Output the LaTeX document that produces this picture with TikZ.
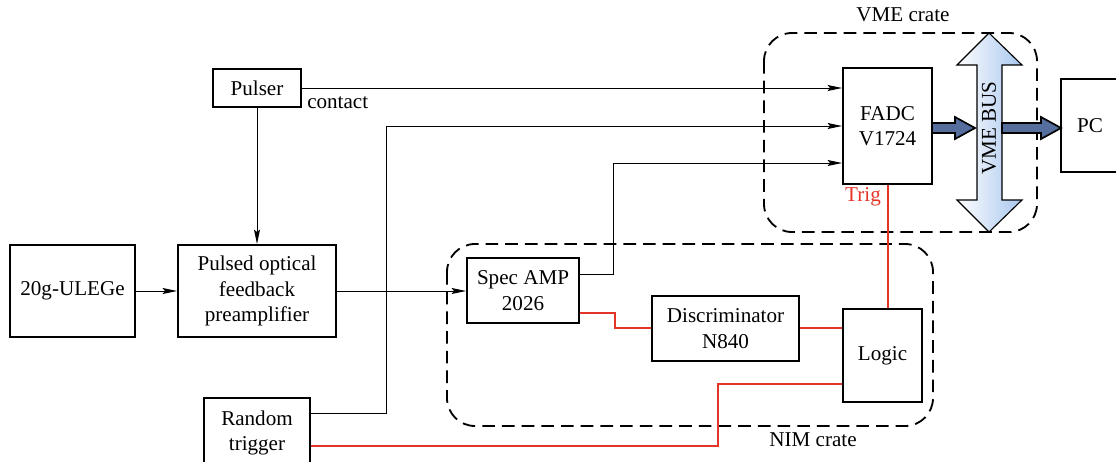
\documentclass[tikz,border=0pt]{standalone}
\usepackage{fontspec}
\setmainfont{Liberation Serif}
\usetikzlibrary{arrows.meta}

\definecolor{sigred}{RGB}{228,52,40}
\definecolor{busdark}{RGB}{86,110,158}
\definecolor{buslight}{RGB}{168,198,238}

\tikzset{
  unit/.style={draw, line width=1.4pt, align=center, inner sep=0pt,
    font=\fontsize{15}{18}\selectfont},
  wire/.style={line width=0.7pt, -{Stealth[length=3.6mm,width=1.5mm,inset=0.6mm]}},
  redwire/.style={line width=0.8pt, sigred},
  crate/.style={draw, line width=1.3pt, dash pattern=on 9pt off 5pt, rounded corners=0.7cm},
  lbl/.style={font=\fontsize{15}{18}\selectfont, inner sep=0pt},
  fatarrow/.style={fill=busdark, draw=black, line width=1.2pt, line join=miter},
}

\begin{document}
\begin{tikzpicture}[x=0.025cm, y=-0.025cm]
  \useasboundingbox (0,0) rectangle (1116,461);
  \clip (0,0) rectangle (1116,461);

  % crates
  \draw[crate] (764,33) rectangle (1037,232);
  \node[lbl] (vmelbl) at (903,15) {VME crate};
  \draw[crate] (447,244) rectangle (933,426);
  \node[lbl] (nimlbl) at (813,440) {NIM crate};

  % units
  \node[unit, minimum width=3.125cm, minimum height=2.3cm] (ule) at (72.5,291) {20g-ULEGe};
  \node[unit, minimum width=3.95cm, minimum height=2.3cm] (pre) at (257,291) {Pulsed optical\\feedback\\preamplifier};
  \node[unit, minimum width=2.2cm, minimum height=0.95cm] (pulser) at (257,88) {Pulser};
  \node[unit, minimum width=2.65cm, minimum height=1.75cm] (rand) at (257,433) {Random\\trigger};
  \node[unit, minimum width=2.8cm, minimum height=1.625cm] (spec) at (523,290.5) {Spec AMP\\2026};
  \node[unit, minimum width=3.675cm, minimum height=1.625cm] (disc) at (725.5,328.5) {Discriminator\\N840};
  \node[unit, minimum width=1.975cm, minimum height=2.325cm] (logic) at (882.5,355.5) {Logic};
  \node[unit, minimum width=2.225cm, minimum height=2.9cm] (fadc) at (887.5,126) {FADC\\V1724};
  \node[unit, minimum width=1.45cm, minimum height=2.325cm] (pc) at (1090,125.5) {PC};

  % signal path
  \draw[wire] (ule.east) -- (pre.west);
  \draw[wire] (pulser.south) -- (pre.north);
  \draw[wire] (pulser.east) -- (pulser.east -| fadc.west);
  \node[lbl, anchor=west] (contact) at (307,103) {contact};
  \draw[wire] (rand.east |- 0,413) -- (386,413) -- (386,126) -- (fadc.west |- 0,126);
  \draw[wire] (pre.east) -- (pre.east -| spec.west);
  \draw[wire] (spec.east |- 0,274) -- (613,274) -- (613,163) -- (fadc.west |- 0,163);

  % trigger path
  \draw[redwire] (spec.east |- 0,313) -- (615,313) -- (615,328) -- (disc.west |- 0,328);
  \draw[redwire, line width=1.5pt] (disc.east |- 0,328) -- (logic.west |- 0,328);
  \draw[redwire] (logic.north -| 888,0) -- (fadc.south -| 888,0);
  \node[lbl, text=sigred] (trig) at (863,197) {Trig};
  \draw[redwire] (logic.west |- 0,384) -- (718,384) -- (718,446) -- (rand.east |- 0,446);

  % VME bus
  \draw[line width=0.8pt, left color=white, right color=buslight]
    (989,33) -- (1022,65) -- (1002,65) -- (1002,200) -- (1022,200) -- (989,232)
    -- (957,200) -- (977,200) -- (977,65) -- (957,65) -- cycle;
  \node[lbl, rotate=90] (bus) at (989,128) {VME BUS};
  \draw[fatarrow] (932,123) -- (955,123) -- (955,117) -- (975,128) -- (955,139) -- (955,133) -- (932,133) -- cycle;
  \draw[fatarrow] (1002,123) -- (1041,123) -- (1041,117) -- (1061,128) -- (1041,139) -- (1041,133) -- (1002,133) -- cycle;
\end{tikzpicture}
\end{document}
